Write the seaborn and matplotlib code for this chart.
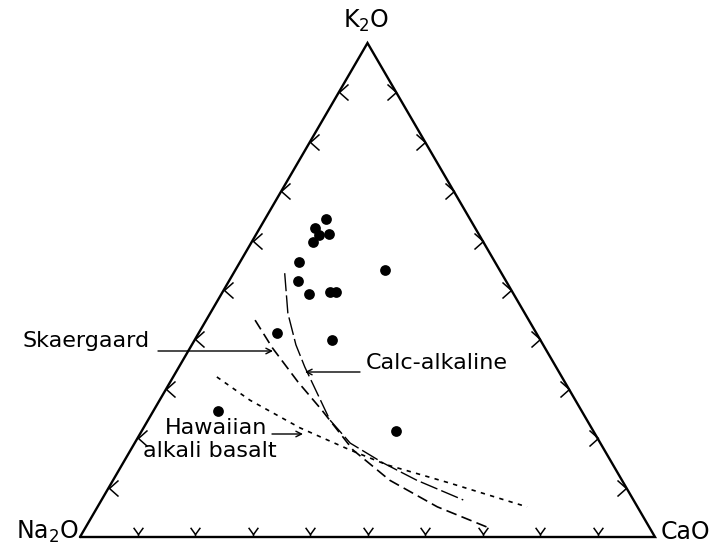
import numpy as np
import pandas as pd
import matplotlib
matplotlib.use("Agg")
import matplotlib.pyplot as plt
from matplotlib.path import Path
import seaborn as sns

# Rock analyses, proportions of K2O : Na2O : CaO (per cent)
k2o = [64.4, 62.6, 61.3, 61.1, 59.7, 55.7, 51.8, 49.2, 49.6, 49.6, 54.0, 41.3, 39.9, 25.5, 21.5]
cao = [10.6, 9.6, 12.7, 11.0, 10.7, 10.2, 12.0, 15.2, 18.7, 19.7, 26.0, 13.6, 23.9, 11.3, 44.2]
na2o = [25.0, 27.8, 26.0, 27.9, 29.6, 34.1, 36.2, 35.6, 31.7, 30.7, 20.0, 45.1, 36.2, 63.2, 34.3]

# Differentiation trends (K2O, CaO per cent; Na2O makes up the rest)
skaer_k = [43.9, 38.3, 31.4, 25.7, 17.6, 11.5, 6.1, 2.0]
skaer_ca = [8.5, 14.3, 22.2, 29.2, 38.7, 48.1, 59.1, 69.8]
calc_k = [53.4, 45.3, 38.9, 34.4, 23.7, 19.0, 15.0, 11.5, 7.5]
calc_ca = [8.9, 13.5, 18.1, 21.9, 31.6, 37.5, 45.2, 52.8, 62.9]
haw_k = [32.4, 27.7, 22.1, 17.6, 14.6, 10.9, 6.1]
haw_ca = [7.6, 15.7, 27.2, 38.2, 46.1, 58.9, 74.7]

apex_labels = ["K$_2$O", "Na$_2$O", "CaO"]
tick_fracs = [0.1, 0.2, 0.3, 0.4, 0.5, 0.6, 0.7, 0.8, 0.9]

H = np.sqrt(3) / 2


def to_xy(k, ca, na=None):
    k = np.asarray(k, float)
    ca = np.asarray(ca, float)
    na = 100.0 - k - ca if na is None else np.asarray(na, float)
    tot = k + ca + na
    return (ca + 0.5 * k) / tot, H * k / tot


sns.set_style("white")
plt.rcParams["font.family"] = ["DejaVu Sans"]
plt.rcParams["mathtext.fontset"] = "dejavusans"
plt.rcParams["text.color"] = "black"

W, Hpx = 719, 554
fig = plt.figure(figsize=(W / 100, Hpx / 100), dpi=100)
ax = fig.add_axes([0, 0, 1, 1])
# left corner at (80, 537) px, right corner at (655, 537) px, apex 494 px higher
sx, sy = 575.0, 494.0 / H
xlim = (-80 / sx, (W - 80) / sx)
ylim = (-(Hpx - 537) / sy, 537 / sy)
ax.set_axis_off()

# triangle frame
frame = pd.DataFrame({"x": [0, 1, 0.5, 0], "y": [0, 0, H, 0]})
ax.plot(frame["x"], frame["y"], color="black", lw=1.7, solid_joinstyle="miter")

# arrow-style ticks on each side
M, L = Path.MOVETO, Path.LINETO
base_tick = Path([(-0.5, 1), (0, 0.3), (0.5, 1), (0, 0.3), (0, 0)], [M, L, L, M, L])
left_tick = Path([(0.9, 0.8), (0, 0), (0.9, -0.8)], [M, L, L])
right_tick = Path([(-0.9, 0.8), (0, 0), (-0.9, -0.8)], [M, L, L])
tf = np.array(tick_fracs)
tick_kw = dict(linestyle="none", color="black", mfc="none", mec="black", mew=1.1)
bx, by = to_xy(np.zeros_like(tf), tf * 100)
ax.plot(bx, by, marker=base_tick, ms=14, **tick_kw)
lx, ly = to_xy(tf * 100, np.zeros_like(tf))
ax.plot(lx, ly, marker=left_tick, ms=13, **tick_kw)
rx, ry = to_xy(tf * 100, (1 - tf) * 100)
ax.plot(rx, ry, marker=right_tick, ms=13, **tick_kw)

# trend lines
for kk, cc, ls, lw in [
    (skaer_k, skaer_ca, (0, (6.5, 3.2)), 1.2),
    (calc_k, calc_ca, (0, (13, 3)), 1.0),
    (haw_k, haw_ca, (0, (2.6, 3.2)), 1.2),
]:
    x, y = to_xy(kk, cc)
    sns.lineplot(x=x, y=y, ax=ax, sort=False, estimator=None, color="black",
                 linestyle=ls, lw=lw)

# analyses
px, py = to_xy(k2o, cao, na2o)
sns.scatterplot(x=px, y=py, ax=ax, color="black", s=60, linewidth=0, zorder=5)

ax.set_xlim(*xlim)
ax.set_ylim(*ylim)


def fp(x, y):
    return (x, Hpx - y)


fs_lab = 17
ax.annotate(apex_labels[0], xy=fp(366, 28), xycoords="figure pixels",
            ha="center", va="baseline", fontsize=fs_lab)
ax.annotate(apex_labels[1], xy=fp(79, 539), xycoords="figure pixels",
            ha="right", va="baseline", fontsize=fs_lab)
ax.annotate(apex_labels[2], xy=fp(661, 539), xycoords="figure pixels",
            ha="left", va="baseline", fontsize=fs_lab)

fs = 16
arrow = dict(arrowstyle="->", color="black", lw=1.0, shrinkA=0, shrinkB=0)
ax.annotate("Skaergaard", xy=fp(22, 341), xycoords="figure pixels",
            ha="left", va="center", fontsize=fs)
ax.annotate("", xy=fp(273, 351), xytext=fp(158, 351), xycoords="figure pixels",
            textcoords="figure pixels", arrowprops=arrow)
ax.annotate("Calc-alkaline", xy=fp(366, 363), xycoords="figure pixels",
            ha="left", va="center", fontsize=fs)
ax.annotate("", xy=fp(305, 372), xytext=fp(360, 372), xycoords="figure pixels",
            textcoords="figure pixels", arrowprops=arrow)
ax.annotate("Hawaiian", xy=fp(216, 428), xycoords="figure pixels",
            ha="center", va="center", fontsize=fs)
ax.annotate("alkali basalt", xy=fp(210, 451), xycoords="figure pixels",
            ha="center", va="center", fontsize=fs)
ax.annotate("", xy=fp(303, 434), xytext=fp(272, 434), xycoords="figure pixels",
            textcoords="figure pixels", arrowprops=arrow)

fig.savefig("out.png", dpi=100, facecolor="white")
